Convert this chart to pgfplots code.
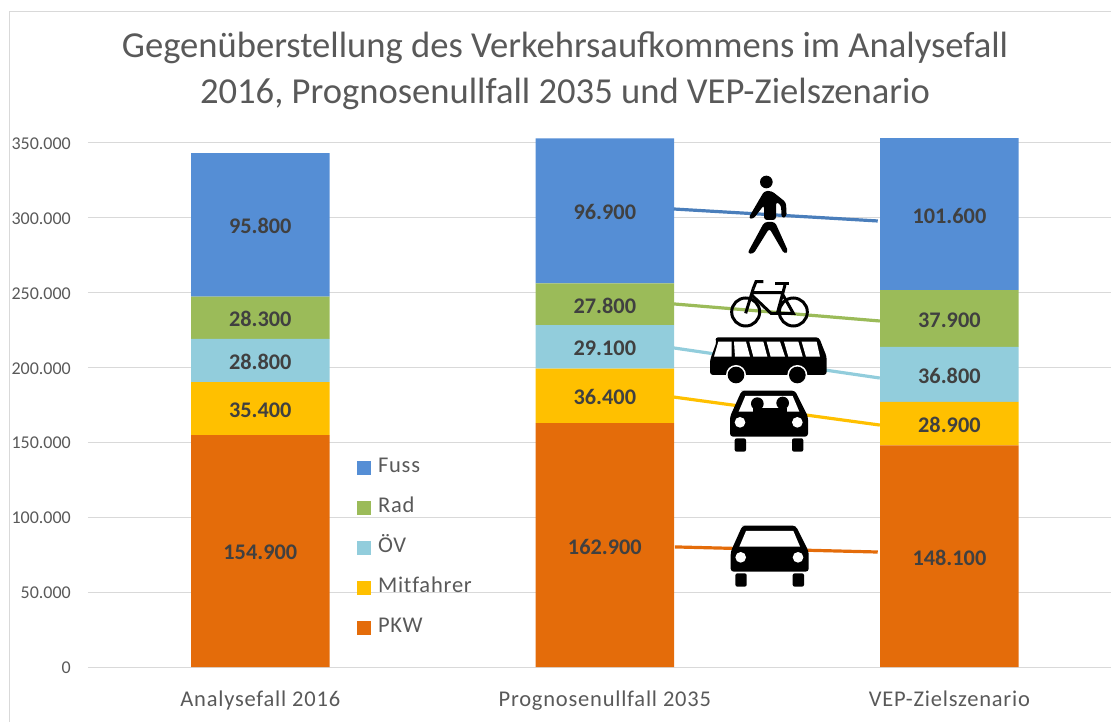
\documentclass[border=0pt]{standalone}
\usepackage{pgfplots}
\pgfplotsset{compat=1.18}
\usepackage{fontspec}
\setmainfont{Carlito}
\newfontfamily\tracked[LetterSpace=3.5,Ligatures=NoCommon]{Carlito}
\definecolor{cFuss}{HTML}{558ED5}
\definecolor{cRad}{HTML}{9BBB59}
\definecolor{cOEV}{HTML}{92CDDC}
\definecolor{cMit}{HTML}{FFC000}
\definecolor{cPKW}{HTML}{E46C0A}
\definecolor{cLineB}{HTML}{4A7EBB}
\definecolor{txt}{HTML}{595959}
\definecolor{lab}{HTML}{404040}
\definecolor{gridc}{HTML}{D9D9D9}
\newcommand{\carbody}[1]{%
  \fill[black,rounded corners=3pt] (222,692) -- (375,692) -- (414,770) -- (414,830) -- (180,830) -- (180,770) -- (215,692) -- cycle;
  \fill[white] (226,#1) -- (368,#1) -- (388,755) -- (206,755) -- cycle;
  \fill[white] (210,787) circle [radius=16] (382,787) circle [radius=16];
  \fill[black,rounded corners=2pt] (194,835) rectangle (228,875);
  \fill[black,rounded corners=2pt] (366,835) rectangle (400,875);
}
\pgfplotstableread{
x v
0 154900
1 162900
2 148100
}\tPKW
\pgfplotstableread{
x v
0 35400
1 36400
2 28900
}\tMit
\pgfplotstableread{
x v
0 28800
1 29100
2 36800
}\tOEV
\pgfplotstableread{
x v
0 28300
1 27800
2 37900
}\tRad
\pgfplotstableread{
x v
0 95800
1 96900
2 101600
}\tFuss
\pgfplotsset{sq/.style={legend image code/.code={\fill[##1] (0pt,-7pt) rectangle (14pt,7pt);}}}
\begin{document}
\begin{tikzpicture}[x=1pt,y=1pt]
\path[use as bounding box] (0,0) rectangle (1111,721);
\draw[gridc,line width=1pt] (9.5,-5) -- (9.5,709.5) -- (1120,709.5);
\begin{axis}[
  name=main,
  at={(88pt,54pt)},anchor=south west,
  scale only axis,width=1023pt,height=539pt,
  xmin=-0.5,xmax=2.469,ymin=0,ymax=360000,
  axis x line*=bottom,axis y line*=left,
  x axis line style={draw=gridc,line width=1pt,-},
  y axis line style={draw=none,-},
  ybar stacked,bar width=138.5pt,
  xtick={0,1,2},xticklabels={Analysefall 2016,Prognosenullfall 2035,VEP-Zielszenario},
  ytick={0,50000,100000,150000,200000,250000,300000,350000},
  ymajorgrids,grid style={draw=gridc,line width=1pt},
  major tick length=0pt,
  tick style={draw=none},
  scaled y ticks=false,
  clip=false,
  /pgf/number format/assume math mode=true,
  /pgf/number format/1000 sep={.},
  /pgf/number format/fixed,
  yticklabel style={font=\fontsize{18}{20}\selectfont,text=txt,inner sep=0pt,xshift=-17pt,yshift=-0.7pt},
  xticklabel style={font=\fontsize{22.5}{26}\tracked\selectfont,text=txt,inner sep=0pt,yshift=-23.5pt},
  title={Gegenüberstellung des Verkehrsaufkommens im Analysefall\\2016, Prognosenullfall 2035 und VEP-Zielszenario},
  title style={font=\fontsize{36.6}{46}\selectfont,text=txt,align=center,at={(0.4663,1)},anchor=south,yshift=12pt,inner sep=0pt},
  nodes near coords,
  point meta=explicit,
  every node near coord/.append style={anchor=center,yshift=-1.5pt,font=\fontsize{22.3}{26}\selectfont\bfseries,text=lab},
  reverse legend,
  legend cell align=left,
  legend style={at={(269pt,208pt)},anchor=north west,draw=none,fill=none,inner sep=0pt,outer sep=0pt,
    font=\fontsize{22.5}{26}\tracked\selectfont,text=txt,row sep=22pt,
    nodes={inner sep=0pt,text height=13pt,text depth=5pt},
    /tikz/column 1/.style={column sep=7pt}},
]
\addplot[sq,fill=cPKW,draw=none] table[x=x,y=v,meta=v]{\tPKW};
\addplot[sq,fill=cMit,draw=none] table[x=x,y=v,meta=v]{\tMit};
\addplot[sq,fill=cOEV,draw=none] table[x=x,y=v,meta=v]{\tOEV};
\addplot[sq,fill=cRad,draw=none] table[x=x,y=v,meta=v]{\tRad};
\addplot[sq,fill=cFuss,draw=none] table[x=x,y=v,meta=v]{\tFuss};
\legend{PKW,Mitfahrer,ÖV,Rad,Fuss}
\end{axis}
\begin{axis}[
  at={(88pt,54pt)},anchor=south west,
  scale only axis,width=1023pt,height=539pt,
  xmin=-0.5,xmax=2.469,ymin=0,ymax=360000,
  hide axis,
]
\addplot[cLineB,line width=3.2pt,no marks] coordinates {(1.200,305900) (1.792,297900)};
\addplot[cRad,line width=3.2pt,no marks] coordinates {(1.200,242500) (1.798,231100)};
\addplot[cOEV,line width=3.2pt,no marks] coordinates {(1.200,213100) (1.798,193000)};
\addplot[cMit,line width=3.2pt,no marks] coordinates {(1.200,180300) (1.798,161600)};
\addplot[cPKW,line width=3.2pt,no marks] coordinates {(1.203,80200) (1.792,76800)};
\end{axis}
% pictograms (coordinates in 3x crop units of the reference)
\begin{scope}[x=0.33333pt,y=-0.33333pt,shift={(670pt,561pt)}]
  % pedestrian
  \fill[black] (289,66) circle [radius=19];
  \fill[black,rounded corners=3pt] (283,93) -- (305,93) -- (348,127) -- (350,170) -- (335,175) -- (333,135) -- (318,125) -- (318,180) -- (282,180) -- (282,135) -- (250,177) -- (235,175) -- (270,115) -- cycle;
  \fill[black,rounded corners=3pt] (283,186) -- (232,280) -- (250,282) -- (298,205) -- (343,282) -- (355,275) -- (315,186) -- cycle;
  % bicycle
  \begin{scope}[line width=3pt,draw=black]
    \draw (227,456) circle [radius=42];
    \draw (370,456) circle [radius=42];
    \draw (227,460) -- (250,385);
    \draw (280,365) -- (258,365) -- (250,385);
    \draw (245,398) -- (335,398) -- (370,460) -- (303,460) -- (245,405);
    \draw (345,375) -- (322,460);
    \draw (316,372) -- (356,372);
  \end{scope}
  % bus
  \fill[black,rounded corners=3pt] (135,532) -- (447,532) -- (470,590) -- (470,645) -- (120,645) -- (120,600) -- (140,545) -- cycle;
  \fill[white] (145,545) -- (185,545) -- (185,590) -- (132,590) -- cycle;
  \fill[white] (192,545) -- (228,545) -- (240,590) -- (195,590) -- cycle;
  \fill[white] (238,545) -- (280,545) -- (292,590) -- (250,590) -- cycle;
  \fill[white] (290,545) -- (330,545) -- (345,590) -- (302,590) -- cycle;
  \fill[white] (342,545) -- (385,545) -- (398,590) -- (355,590) -- cycle;
  \fill[white] (395,545) -- (440,545) -- (450,590) -- (408,590) -- cycle;
  \fill[white] (198,645) circle [radius=30] (382,645) circle [radius=30];
  \fill[black] (198,645) circle [radius=25] (382,645) circle [radius=25];
  % car with passengers
  \carbody{708}
  \fill[black] (262,731) circle [radius=19] (338,729) circle [radius=19];
  \fill[black] (248,745) rectangle (352,760);
  % car
  \begin{scope}[yshift=-135pt,xshift=0.7pt]
    \carbody{708}
  \end{scope}
\end{scope}
\end{tikzpicture}
\end{document}
